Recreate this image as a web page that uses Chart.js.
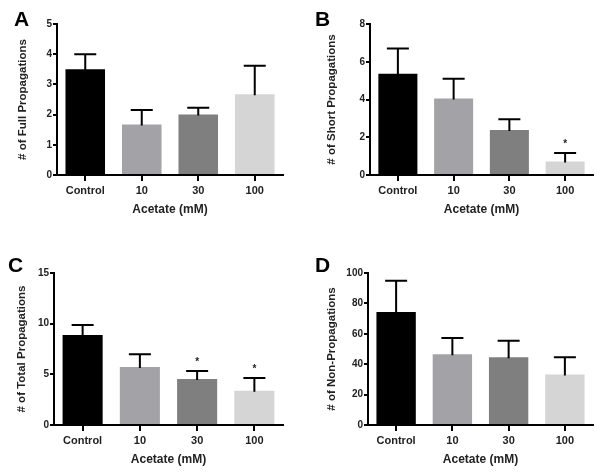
<!DOCTYPE html>
<html>
<head>
<meta charset="utf-8">
<script src="https://cdn.jsdelivr.net/npm/chart.js@4.4.1/dist/chart.umd.min.js"></script>
<style>
  html, body { margin: 0; padding: 0; background: #fff; }
  #wrap { position: relative; width: 602px; height: 474px; overflow: hidden; }
  .pane { position: absolute; width: 301px; height: 237px; }
  .lbl { position: absolute; font: bold 21px Arial, "Liberation Sans", sans-serif; color: #000; line-height: 1; }
</style>
</head>
<body>
<div id="wrap">
  <div class="pane" style="left:0;top:0"><canvas id="cA" width="301" height="237"></canvas></div>
  <div class="pane" style="left:301px;top:0"><canvas id="cB" width="301" height="237"></canvas></div>
  <div class="pane" style="left:0;top:237px"><canvas id="cC" width="301" height="237"></canvas></div>
  <div class="pane" style="left:301px;top:237px"><canvas id="cD" width="301" height="237"></canvas></div>
  <div class="lbl" style="left:14px;top:8px">A</div>
  <div class="lbl" style="left:315px;top:8px">B</div>
  <div class="lbl" style="left:8px;top:254px">C</div>
  <div class="lbl" style="left:315px;top:254px">D</div>
</div>
<script>
// ---- data ----
const categories = ['Control', '10', '30', '100'];
const xTitle = 'Acetate (mM)';

const fullMeans = [3.5, 1.67, 2.0, 2.67];
const fullErr = [0.5, 0.48, 0.23, 0.95];
const fullStars = ['', '', '', ''];

const shortMeans = [5.37, 4.05, 2.38, 0.72];
const shortErr = [1.33, 1.05, 0.57, 0.45];
const shortStars = ['', '', '', '*'];

const totalMeans = [8.87, 5.72, 4.55, 3.37];
const totalErr = [1.0, 1.25, 0.78, 1.28];
const totalStars = ['', '', '*', '*'];

const nonMeans = [74.4, 46.5, 44.6, 33.2];
const nonErr = [20.5, 10.8, 10.9, 11.4];
const nonStars = ['', '', '', ''];

const barColors = ['#000000', '#a3a3a7', '#7f7f7f', '#d5d5d5'];
const FONT = 'Arial, "Liberation Sans", sans-serif';

const errorBarPlugin = {
  id: 'errorBars',
  afterDatasetsDraw(chart, args, opts) {
    const ctx = chart.ctx;
    const meta = chart.getDatasetMeta(0);
    const y = chart.scales.y;
    const ds = chart.data.datasets[0];
    ctx.save();
    ctx.strokeStyle = '#000';
    ctx.lineWidth = 2;
    meta.data.forEach((bar, i) => {
      const top = y.getPixelForValue(ds.data[i] + opts.errors[i]);
      const base = y.getPixelForValue(ds.data[i]);
      const x = bar.x;
      ctx.beginPath();
      ctx.moveTo(x, base + 1);
      ctx.lineTo(x, top);
      ctx.moveTo(x - 11, top);
      ctx.lineTo(x + 11, top);
      ctx.stroke();
      if (opts.stars[i]) {
        ctx.fillStyle = '#222';
        ctx.font = 'bold 10px ' + FONT;
        ctx.textAlign = 'center';
        ctx.textBaseline = 'middle';
        ctx.fillText(opts.stars[i], x, top - 9);
      }
    });
    ctx.restore();
  }
};

function makeChart(id, means, errs, stars, yMax, yStep, yTitle, area, yTitlePad) {
  const H = 237, W = 301;
  new Chart(document.getElementById(id), {
    type: 'bar',
    data: {
      labels: categories,
      datasets: [{
        data: means,
        backgroundColor: barColors,
        borderWidth: 0,
        barPercentage: 0.7,
        categoryPercentage: 1.0
      }]
    },
    plugins: [errorBarPlugin],
    options: {
      responsive: false,
      animation: false,
      layout: { padding: { left: 0, top: area.top, right: W - area.right, bottom: H - area.bottom - 48 } },
      plugins: {
        legend: { display: false },
        tooltip: { enabled: false },
        errorBars: { errors: errs, stars: stars }
      },
      scales: {
        x: {
          offset: true,
          grid: { display: true, offset: false, drawOnChartArea: false, drawTicks: true, tickLength: 6, color: '#000', lineWidth: 2 },
          border: { display: true, color: '#000', width: 2 },
          ticks: { color: '#222', padding: 3, font: { family: FONT, size: 11, weight: 'bold' }, maxRotation: 0 },
          title: { display: true, text: xTitle, color: '#222', font: { family: FONT, size: 12, weight: 'bold' }, padding: { top: 0, bottom: 6 } },
          afterFit(s) { s.height = 48; }
        },
        y: {
          min: 0, max: yMax,
          grid: { display: true, drawOnChartArea: false, drawTicks: true, tickLength: 4, color: '#000', lineWidth: 2 },
          border: { display: true, color: '#000', width: 2 },
          ticks: { stepSize: yStep, color: '#222', padding: 1, font: { family: FONT, size: 10, weight: 'bold' } },
          title: { display: true, text: yTitle, color: '#222', font: { family: FONT, size: 11.5, weight: 'bold' }, padding: { top: yTitlePad, bottom: 0 } },
          afterFit(s) { s.width = area.left; }
        }
      }
    }
  });
}

makeChart('cA', fullMeans, fullErr, fullStars, 5, 1, '# of Full Propagations', { left: 57, top: 24, right: 283, bottom: 175 }, 16);
makeChart('cB', shortMeans, shortErr, shortStars, 8, 2, '# of Short Propagations', { left: 69, top: 24, right: 292, bottom: 175 }, 24);
makeChart('cC', totalMeans, totalErr, totalStars, 15, 5, '# of Total Propagations', { left: 54, top: 36, right: 283, bottom: 188 }, 15);
makeChart('cD', nonMeans, nonErr, nonStars, 100, 20, '# of Non-Propagations', { left: 67, top: 36, right: 292, bottom: 188 }, 24);
</script>
</body>
</html>
